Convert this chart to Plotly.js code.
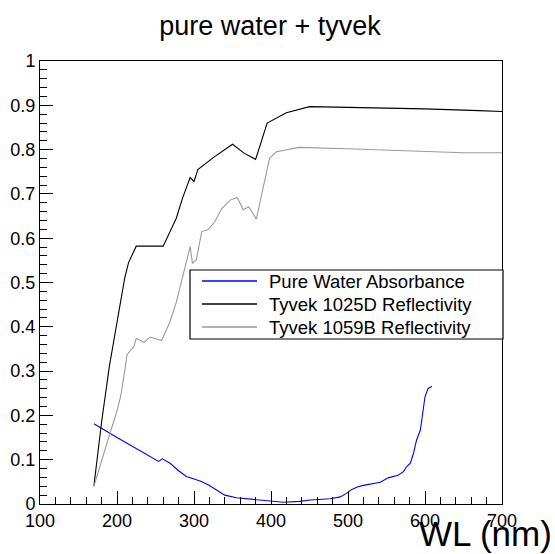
<!DOCTYPE html>
<html>
<head>
<meta charset="utf-8">
<script src="https://cdn.plot.ly/plotly-3.0.1.min.js"></script>
<style>html,body{margin:0;padding:0;background:#fff;}#chart{width:555px;height:554px;}</style>
</head>
<body>
<div id="chart"></div>
<script>
// ---- data ----
const chartTitle = "pure water + tyvek";
const xAxisTitle = "WL (nm)";
const seriesNames = ["Pure Water Absorbance", "Tyvek 1025D Reflectivity", "Tyvek 1059B Reflectivity"];

const waterWL = [170,180,200,221,240,245,254,259,269,280,290,301,308,319,330,340,355,377,399,416,437,451,477,490,498,505,513,520,542,552,565,572,576,581,585,589,594,598,600,604,609];
const waterAbs = [0.181,0.170,0.150,0.129,0.110,0.105,0.096,0.102,0.092,0.075,0.062,0.056,0.052,0.043,0.030,0.020,0.014,0.011,0.007,0.004,0.006,0.009,0.012,0.016,0.024,0.033,0.039,0.042,0.049,0.059,0.065,0.073,0.084,0.092,0.114,0.144,0.167,0.212,0.242,0.261,0.265];

const t1025WL = [170,180,190,200,210,215,225,260,270,277,285,295,300,305,325,350,365,380,395,420,450,530,600,670,700];
const t1025R = [0.041,0.185,0.310,0.410,0.510,0.545,0.582,0.582,0.620,0.645,0.690,0.737,0.728,0.755,0.782,0.812,0.792,0.778,0.860,0.883,0.897,0.895,0.892,0.888,0.886];

const t1059WL = [170,180,190,200,205,210,213,222,225,235,243,258,268,277,284,290,295,298,303,310,318,327,336,347,356,364,371,381,398,407,436,498,563,650,700];
const t1059R = [0.040,0.100,0.155,0.210,0.245,0.300,0.337,0.356,0.374,0.365,0.377,0.369,0.408,0.455,0.506,0.550,0.581,0.543,0.551,0.615,0.619,0.637,0.667,0.686,0.692,0.664,0.671,0.643,0.780,0.795,0.805,0.802,0.798,0.793,0.793];

const seriesColors = ["#0000ff", "#000000", "#9a9a9a"];

// ---- chart ----
const FONT = "Liberation Sans, Arial, Helvetica, sans-serif";
const xs = [waterWL, t1025WL, t1059WL];
const ys = [waterAbs, t1025R, t1059R];
const traces = xs.map((x, i) => ({
  type: "scatter", mode: "lines", x: x, y: ys[i], name: seriesNames[i],
  line: {color: seriesColors[i], width: 1.1}, showlegend: false, hoverinfo: "skip"
}));

// manual ROOT-style legend box (paper coords relative to plot area)
const L = 40, R = 502, T = 61, B = 504;
const px = p => (p - L) / (R - L);
const py = p => (B - p) / (B - T);
const legRows = [281, 304, 327];
const shapes = [
  {type: "rect", xref: "paper", yref: "paper", x0: px(190), x1: px(503), y0: py(339), y1: py(270),
   line: {color: "#000", width: 1.2}, fillcolor: "#fff", layer: "above"}
];
const annotations = [];
seriesNames.forEach((n, i) => {
  shapes.push({type: "line", xref: "paper", yref: "paper", x0: px(202), x1: px(257), y0: py(legRows[i]), y1: py(legRows[i]),
    line: {color: seriesColors[i], width: 1.4}, layer: "above"});
  annotations.push({xref: "paper", yref: "paper", x: px(267), y: py(legRows[i]), xanchor: "left", yanchor: "middle",
    text: n, showarrow: false, font: {family: FONT, size: 18.5, color: "#000"}});
});
annotations.push({xref: "paper", yref: "paper", x: px(554), y: py(533), xanchor: "right", yanchor: "middle",
  text: xAxisTitle, showarrow: false, font: {family: FONT, size: 35, color: "#000"}});

const axisCommon = {
  showgrid: false, zeroline: false, showline: true, linecolor: "#000", linewidth: 1, mirror: true,
  ticks: "inside", ticklen: 13, tickwidth: 1, tickcolor: "#000",
  tickfont: {family: FONT, size: 18, color: "#000"}
};

const layout = {
  width: 555, height: 554,
  margin: {l: L, r: 555 - R, t: T, b: 554 - B, pad: 0},
  paper_bgcolor: "#fff", plot_bgcolor: "#fff",
  font: {family: FONT, color: "#000"},
  title: {text: chartTitle, font: {family: FONT, size: 27, color: "#000"}, x: 270 / 555, xanchor: "center",
          y: 1 - 26 / 554, yanchor: "middle", xref: "container", yref: "container"},
  xaxis: Object.assign({}, axisCommon, {range: [100, 700], dtick: 100, tick0: 100,
          minor: {ticks: "inside", dtick: 20, ticklen: 7, tickwidth: 1, tickcolor: "#000", showgrid: false},
          title: {text: ""}}),
  yaxis: Object.assign({}, axisCommon, {range: [0, 1], dtick: 0.1, tick0: 0,
          minor: {ticks: "inside", dtick: 0.02, ticklen: 7, tickwidth: 1, tickcolor: "#000", showgrid: false},
          title: {text: ""}}),
  shapes: shapes,
  annotations: annotations,
  showlegend: false
};

Plotly.newPlot("chart", traces, layout, {staticPlot: true, displayModeBar: false});
</script>
</body>
</html>
